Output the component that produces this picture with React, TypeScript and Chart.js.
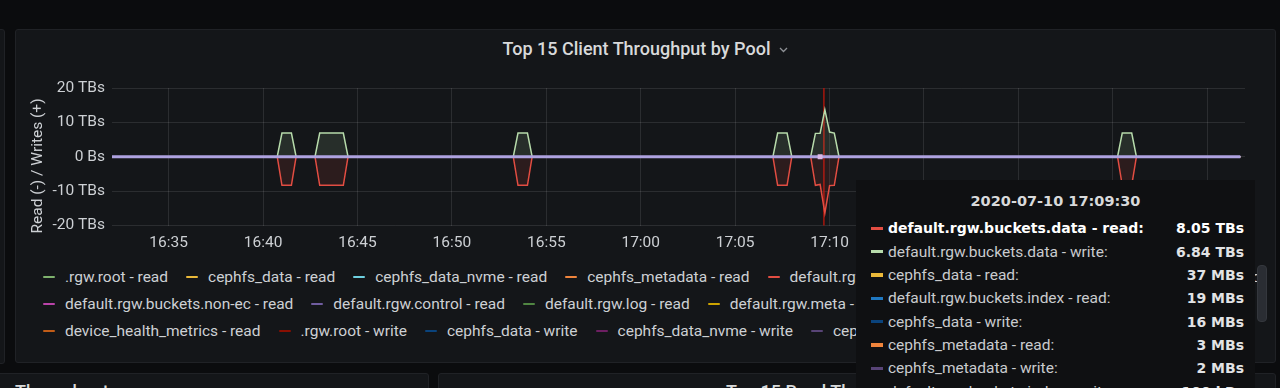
import React, { useEffect, useRef } from 'react';
import { Chart, registerables } from 'chart.js';

Chart.register(...registerables);

const FONT = 'Roboto, "Noto Sans", sans-serif';
const BOLD_FONT = '"DejaVu Sans", sans-serif';

// ---------- data ----------
const panelTitle = 'Top 15 Client Throughput by Pool';
const yAxisTitle = 'Read (-) / Writes (+)';
const xMin = '16:32:00';
const xMax = '17:32:00';
const xTickLabels = ['16:35', '16:40', '16:45', '16:50', '16:55', '17:00', '17:05', '17:10', '17:15', '17:20', '17:25', '17:30'];
const yTickValues = [-20, -10, 0, 10, 20];
const yUnit = 'TBs';
const zeroTickLabel = '0 Bs';

const seriesNames = [
  '.rgw.root - read',
  'cephfs_data - read',
  'cephfs_data_nvme - read',
  'cephfs_metadata - read',
  'default.rgw.buckets.data - read',
  'default.rgw.buckets.index - read',
  'default.rgw.buckets.non-ec - read',
  'default.rgw.control - read',
  'default.rgw.log - read',
  'default.rgw.meta - read',
  'default.rgw.otp - read',
  'device_health_metrics - read',
  '.rgw.root - write',
  'cephfs_data - write',
  'cephfs_data_nvme - write',
  'cephfs_metadata - write',
  'default.rgw.buckets.data - write',
  'default.rgw.buckets.index - write',
  'default.rgw.buckets.non-ec - write',
  'default.rgw.control - write',
  'default.rgw.log - write',
  'default.rgw.meta - write',
  'default.rgw.otp - write',
  'device_health_metrics - write',
];
const seriesColors = [
  '#7EB26D', '#EAB839', '#6ED0E0', '#EF843C', '#E24D42', '#1F78C1', '#BA43A9', '#705DA0',
  '#508642', '#CCA300', '#447EBC', '#C15C17', '#890F02', '#0A437C', '#6D1F62', '#584477',
  '#B7DBAB', '#F4D598', '#70DBED', '#F9BA8F', '#F29191', '#82B5D8', '#E5A8E2', '#AEA2E0',
];
const legendRowSizes = [6, 5, 13];

const readSeriesName = 'default.rgw.buckets.data - read';
const writeSeriesName = 'default.rgw.buckets.data - write';

// values in TB/s
const readPoints: [string, number][] = [
  ['16:32:00', 0],
  ['16:40:45', 0], ['16:41:00', -8.3], ['16:41:15', -8.3], ['16:41:30', -8.3], ['16:41:45', 0],
  ['16:42:45', 0], ['16:43:00', -8.3], ['16:43:15', -8.3], ['16:43:30', -8.3], ['16:43:45', -8.3], ['16:44:00', -8.3], ['16:44:15', -8.3], ['16:44:30', 0],
  ['16:53:15', 0], ['16:53:30', -8.3], ['16:53:45', -8.3], ['16:54:00', -8.3], ['16:54:15', 0],
  ['17:07:00', 0], ['17:07:15', -8.3], ['17:07:30', -8.3], ['17:07:45', -8.3], ['17:08:00', 0],
  ['17:09:00', 0], ['17:09:15', -8.3], ['17:09:30', -8.05], ['17:09:45', -16.4], ['17:10:00', -8.4], ['17:10:15', -8.3], ['17:10:30', 0],
  ['17:25:15', 0], ['17:25:30', -8.3], ['17:25:45', -8.3], ['17:26:00', -8.3], ['17:26:15', 0],
  ['17:31:45', 0],
];
const writePoints: [string, number][] = [
  ['16:32:00', 0],
  ['16:40:45', 0], ['16:41:00', 6.9], ['16:41:15', 6.9], ['16:41:30', 6.9], ['16:41:45', 0],
  ['16:42:45', 0], ['16:43:00', 6.9], ['16:43:15', 6.9], ['16:43:30', 6.9], ['16:43:45', 6.9], ['16:44:00', 6.9], ['16:44:15', 6.9], ['16:44:30', 0],
  ['16:53:15', 0], ['16:53:30', 6.9], ['16:53:45', 6.9], ['16:54:00', 6.9], ['16:54:15', 0],
  ['17:07:00', 0], ['17:07:15', 6.9], ['17:07:30', 6.9], ['17:07:45', 6.9], ['17:08:00', 0],
  ['17:09:00', 0], ['17:09:15', 6.8], ['17:09:30', 6.84], ['17:09:45', 13.7], ['17:10:00', 7.2], ['17:10:15', 6.9], ['17:10:30', 0],
  ['17:25:15', 0], ['17:25:30', 6.9], ['17:25:45', 6.9], ['17:26:00', 6.9], ['17:26:15', 0],
  ['17:31:45', 0],
];
const zeroPoints: [string, number][] = [['16:32:00', 0], ['17:09:30', 0], ['17:31:45', 0]];

const hoverTime = '17:09:30';
const crosshairTime = '17:09:42';

const tooltipTitle = '2020-07-10 17:09:30';
const tooltipSeries = [
  'default.rgw.buckets.data - read',
  'default.rgw.buckets.data - write',
  'cephfs_data - read',
  'default.rgw.buckets.index - read',
  'cephfs_data - write',
  'cephfs_metadata - read',
  'cephfs_metadata - write',
  'default.rgw.buckets.index - write',
];
const tooltipValues = ['8.05 TBs', '6.84 TBs', '37 MBs', '19 MBs', '16 MBs', '3 MBs', '2 MBs', '100 kBs'];

// ---------- helpers ----------
const hms = (s: string) => {
  const p = s.split(':').map(Number);
  return p[0] * 3600 + p[1] * 60 + (p[2] || 0);
};
const fmtHM = (v: number) => {
  const h = Math.floor(v / 3600);
  const m = Math.floor((v % 3600) / 60);
  return `${h}:${String(m).padStart(2, '0')}`;
};
const colorOf = (name: string) => seriesColors[seriesNames.indexOf(name)];
const hexA = (hex: string, a: number) => {
  const n = parseInt(hex.slice(1), 16);
  return `rgba(${(n >> 16) & 255},${(n >> 8) & 255},${n & 255},${a})`;
};

const TEXT = '#cdd0d4';
const GRID = 'rgba(255,255,255,0.1)';

const crosshairPlugin = {
  id: 'crosshair',
  beforeDatasetsDraw(chart: any) {
    const { ctx, chartArea } = chart;
    const x = chart.scales.x.getPixelForValue(hms(crosshairTime));
    ctx.save();
    ctx.strokeStyle = 'rgba(175,22,12,0.95)';
    ctx.lineWidth = 1.5;
    ctx.beginPath();
    ctx.moveTo(x, chartArea.top);
    ctx.lineTo(x, chartArea.bottom);
    ctx.stroke();
    ctx.restore();
  },
};

function ThroughputChart() {
  const ref = useRef<HTMLCanvasElement>(null);
  useEffect(() => {
    if (!ref.current) return;
    const lastName = seriesNames[seriesNames.length - 1];
    const datasets = seriesNames
      .map((name, i) => {
        const pts = name === readSeriesName ? readPoints : name === writeSeriesName ? writePoints : zeroPoints;
        const isBump = name === readSeriesName || name === writeSeriesName;
        const isTop = name === lastName;
        const color = seriesColors[i];
        return {
          label: name,
          data: pts.map(([t, v]) => ({ x: hms(t), y: v })),
          borderColor: color,
          backgroundColor: isBump ? hexA(color, 0.12) : color,
          borderWidth: isTop ? 2.8 : isBump ? 1.5 : 1,
          fill: isBump ? 'origin' : false,
          tension: 0,
          pointStyle: 'rect',
          pointRadius: (ctx: any) => (isTop && ctx.raw && ctx.raw.x === hms(hoverTime) ? 3.5 : 0),
          pointBackgroundColor: '#dcb8e6',
          pointBorderWidth: 0,
        };
      })
      .reverse();

    const chart = new Chart(ref.current, {
      type: 'line',
      data: { datasets: datasets as any },
      options: {
        animation: false,
        responsive: false,
        events: [],
        layout: { padding: { left: 0, right: 30, top: 58, bottom: 4.5 } },
        plugins: { legend: { display: false }, tooltip: { enabled: false } },
        scales: {
          x: {
            type: 'linear',
            min: hms(xMin),
            max: hms(xMax),
            afterBuildTicks: (s: any) => {
              s.ticks = xTickLabels.map((l) => ({ value: hms(l) }));
            },
            afterFit: (s: any) => {
              s.height = 30;
            },
            ticks: {
              autoSkip: false,
              maxRotation: 0,
              padding: 8,
              color: TEXT,
              font: { family: FONT, size: 15.5 },
              callback: (v: any) => fmtHM(Number(v)),
            },
            grid: { color: GRID, drawTicks: false, lineWidth: 1 },
            border: { display: false },
          },
          y: {
            type: 'linear',
            min: yTickValues[0],
            max: yTickValues[yTickValues.length - 1],
            afterBuildTicks: (s: any) => {
              s.ticks = yTickValues.map((v) => ({ value: v }));
            },
            afterFit: (s: any) => {
              s.width = 96;
            },
            ticks: {
              padding: 7,
              color: TEXT,
              font: { family: FONT, size: 15.5 },
              callback: (v: any) => (Number(v) === 0 ? zeroTickLabel : `${v} ${yUnit}`),
            },
            grid: { color: GRID, drawTicks: false, lineWidth: 1 },
            border: { display: false },
          },
        },
      },
      plugins: [crosshairPlugin],
    });
    return () => chart.destroy();
  }, []);
  return <canvas ref={ref} width={1259} height={230} style={{ position: 'absolute', left: 0, top: 0, width: 1259, height: 230 }} />;
}

function Legend() {
  const rows: number[][] = [];
  let idx = 0;
  legendRowSizes.forEach((n) => {
    const r: number[] = [];
    for (let k = 0; k < n && idx < seriesNames.length; k++) r.push(idx++);
    rows.push(r);
  });
  return (
    <div style={{ position: 'absolute', left: 27, top: 233.5, width: 1215, overflow: 'hidden' }}>
      {rows.map((r, ri) => (
        <div key={ri} style={{ height: 27, display: 'flex', alignItems: 'center', whiteSpace: 'nowrap' }}>
          {r.map((i) => (
            <div key={i} style={{ display: 'flex', alignItems: 'center', marginRight: 18, flex: '0 0 auto' }}>
              <span style={{ display: 'inline-block', width: 12, height: 2.5, background: seriesColors[i], marginRight: 10, borderRadius: 1 }} />
              <span style={{ fontFamily: FONT, fontSize: 15.5, color: TEXT }}>{seriesNames[i]}</span>
            </div>
          ))}
        </div>
      ))}
    </div>
  );
}

function Tooltip() {
  return (
    <div style={{ position: 'absolute', left: 856, top: 180, width: 399, height: 215, background: '#0f1012', overflow: 'hidden' }}>
      <div style={{ position: 'absolute', left: 0, right: 0, top: 10, height: 22, lineHeight: '22px', textAlign: 'center', fontFamily: BOLD_FONT, fontWeight: 'bold', fontSize: 14.5, color: '#d8d9da' }}>
        {tooltipTitle}
      </div>
      {tooltipSeries.map((name, i) => (
        <div key={name} style={{ position: 'absolute', left: 14.5, right: 11, top: 36.7 + i * 23.33, height: 23.33, display: 'flex', alignItems: 'center' }}>
          <span style={{ display: 'inline-block', width: 12.5, height: 3.5, background: colorOf(name), marginRight: 5, flex: '0 0 auto' }} />
          <span
            style={
              i === 0
                ? { fontFamily: BOLD_FONT, fontWeight: 'bold', fontSize: 14, color: '#ffffff', flex: '1 1 auto', whiteSpace: 'nowrap' }
                : { fontFamily: FONT, fontSize: 15.5, color: '#c9cbce', flex: '1 1 auto', whiteSpace: 'nowrap' }
            }
          >
            {name}:
          </span>
          <span style={{ fontFamily: BOLD_FONT, fontWeight: 'bold', fontSize: 14, color: i === 0 ? '#ffffff' : '#e2e3e5', whiteSpace: 'nowrap' }}>{tooltipValues[i]}</span>
        </div>
      ))}
    </div>
  );
}

export default function App() {
  const panelBg = '#141619';
  const panelBorder = '#202226';
  return (
    <div style={{ position: 'absolute', left: 0, top: 0, width: 1280, height: 388, background: '#0b0c0e', overflow: 'hidden' }}>
      {/* left neighbour panel */}
      <div style={{ position: 'absolute', left: -10, top: 29, width: 13, height: 333, background: panelBg, border: `1px solid ${panelBorder}`, borderRadius: 3 }} />
      {/* main panel */}
      <div style={{ position: 'absolute', left: 15, top: 29, width: 1259, height: 332, background: panelBg, border: `1px solid ${panelBorder}`, borderRadius: 3 }}>
        <div style={{ position: 'absolute', left: 0, top: 6, width: 1259, height: 24, display: 'flex', justifyContent: 'center', alignItems: 'center' }}>
          <span style={{ fontFamily: FONT, fontWeight: 500, fontSize: 18, color: '#d8d9da' }}>{panelTitle}</span>
          <svg width="9" height="6" style={{ marginLeft: 9, marginTop: 3 }}>
            <polyline points="1,1 4.5,4.5 8,1" fill="none" stroke="#8e9196" strokeWidth="1.3" />
          </svg>
        </div>
        <ThroughputChart />
        <div
          style={{
            position: 'absolute',
            left: 21 - 80,
            top: 136 - 11,
            width: 160,
            height: 22,
            lineHeight: '22px',
            textAlign: 'center',
            transform: 'rotate(-90deg)',
            fontFamily: FONT,
            fontSize: 15.5,
            color: TEXT,
            whiteSpace: 'nowrap',
          }}
        >
          {yAxisTitle}
        </div>
        <Legend />
        <div style={{ position: 'absolute', left: 1241, top: 235, width: 8, height: 55, borderRadius: 4, background: '#2a2d33', border: '1px solid #34373d' }} />
      </div>
      {/* bottom panels */}
      <div style={{ position: 'absolute', left: -3, top: 373, width: 430, height: 60, background: panelBg, border: `1px solid ${panelBorder}`, borderRadius: 3 }}>
        <div style={{ position: 'absolute', left: 17, top: 7, fontFamily: FONT, fontWeight: 500, fontSize: 18, color: '#d8d9da', whiteSpace: 'nowrap' }}>Throughput</div>
      </div>
      <div style={{ position: 'absolute', left: 438, top: 373, width: 836, height: 60, background: panelBg, border: `1px solid ${panelBorder}`, borderRadius: 3 }}>
        <div style={{ position: 'absolute', left: 0, right: 0, top: 7, textAlign: 'center', fontFamily: FONT, fontWeight: 500, fontSize: 18, color: '#d8d9da', whiteSpace: 'nowrap' }}>
          Top 15 Read Throughput by Pool
        </div>
      </div>
      <Tooltip />
    </div>
  );
}
